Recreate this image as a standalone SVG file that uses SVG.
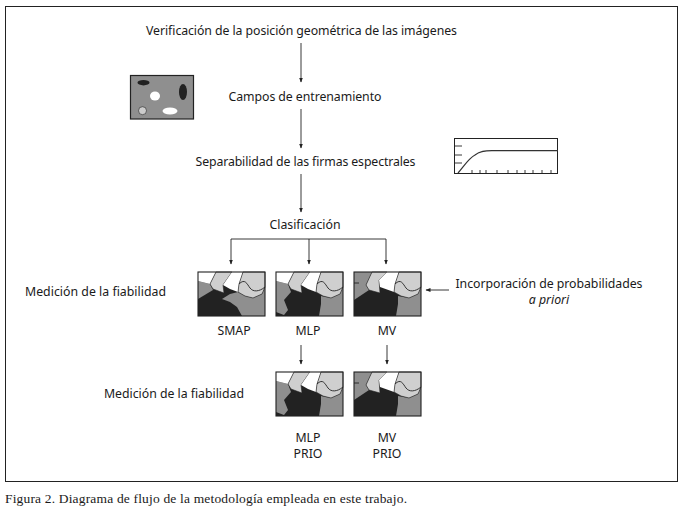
<svg xmlns="http://www.w3.org/2000/svg" width="682" height="510" viewBox="0 0 682 510">
<style>
text{font-family:"Noto Sans","Open Sans",sans-serif;font-size:12.3px;fill:#1a1a1a}
.m{text-anchor:middle}
.c{stroke:#222;stroke-width:.9;fill:none}
.a{marker-end:url(#ah)}
.dk{fill:#222}.md{fill:#8f8f8f}.lt{fill:#cfcfcf;stroke:#222;stroke-width:.6}.wh{fill:#fff}
.f{fill:none;stroke:#222;stroke-width:1.1}
</style>
<defs>
<marker id="ah" markerUnits="userSpaceOnUse" markerWidth="6" markerHeight="6" refX="4.500" refY="2" orient="auto"><path d="M0 0L5 2L0 4Z" fill="#222"/></marker>
<g id="right">
<path class="lt" d="M45 0H67V15L64 22L55 26L47 24L40 20L41 12Z"/>
<path class="c" d="M41 12C47 6 49 12 52 16C55 20 61 20 67 15"/>
</g>
<g id="top">
<path class="wh" d="M0 0H18L12 12L0 9Z"/>
<path class="lt" d="M18 0H34L25 13L26 21L15 17L12 12Z"/>
<path class="wh" d="M34 0H45L41 12L40 20L32 17L25 13Z"/>
<use href="#right"/>
</g>
<g id="mvtop">
<path class="md" d="M0 0H18L12 13L15 18L0 28Z"/>
<path class="c" d="M0 11H5"/>
<path class="lt" d="M18 0H33L25 8L26 21L15 18L12 13Z"/>
<path class="wh" d="M33 0H45L41 12L40 20L26 15L25 8Z"/>
<use href="#right"/>
</g>
<g id="mlpmap">
<rect width="67" height="44" class="dk"/>
<path class="md" d="M0 9L12 12L15 20L8 28L12 38L8 43L0 40Z"/>
<path class="md" d="M45 24L55 26L64 22L67 15V44H43L45 32Z"/>
<use href="#top"/>
<rect width="67" height="44" class="f"/>
</g>
<g id="mvmap">
<rect width="67" height="44" class="dk"/>
<path class="md" d="M44 24L55 26L64 22L67 15V44H42L44 32Z"/>
<use href="#mvtop"/>
<rect width="67" height="44" class="f"/>
</g>
</defs>
<rect id="border" x="5.500" y="6.500" width="672" height="475" fill="#fff" stroke="#222"/>
<g id="connectors">
<path class="c a" d="M301 43V82"/>
<path class="c a" d="M301 109V148"/>
<path class="c a" d="M301 174V212"/>
<path class="c" d="M231 239H386"/>
<path class="c a" d="M231 239V264"/>
<path class="c a" d="M309 239V264"/>
<path class="c a" d="M386 239V264"/>
<path class="c a" d="M301 345V364"/>
<path class="c a" d="M387 345V364"/>
<path class="c a" d="M449 290H426"/>
</g>
<g id="n-verificacion"><text class="m" x="301.500" y="35" textLength="311">Verificación de la posición geométrica de las imágenes</text></g>
<g id="n-muestra">
<rect x="130.500" y="75.500" width="63" height="43.500" fill="#8f8f8f" stroke="#222" stroke-width="1.200"/>
<ellipse cx="143.500" cy="82.700" rx="6" ry="2.700" fill="#222"/>
<ellipse cx="183" cy="92" rx="4" ry="8" fill="#222"/>
<ellipse cx="155" cy="96" rx="5" ry="4.500" fill="#fff"/>
<circle cx="142.500" cy="110.700" r="4" fill="#ccc" stroke="#222" stroke-width=".6"/>
<ellipse cx="170" cy="111" rx="7.500" ry="3.500" fill="#fff"/>
</g>
<g id="n-campos"><text class="m" x="305" y="101" textLength="153">Campos de entrenamiento</text></g>
<g id="n-separabilidad"><text class="m" x="305.500" y="166" textLength="220">Separabilidad de las firmas espectrales</text></g>
<g id="n-curva">
<rect x="454.500" y="138.500" width="103" height="35" fill="#fff" stroke="#222"/>
<path class="c" d="M454 146H462M454 155H462M454 163H462"/>
<path class="c" d="M472 170V174M480 170V174M486 170V174M497 170V174M508 170V174M517 170V174M525 170V174M533 170V174M542 170V174M551 170V174"/>
<path d="M458 173C464 166 469 158 475 155C480 151 485 150.700 492 150.700H558" fill="none" stroke="#333" stroke-width="1.200"/>
</g>
<g id="n-clasificacion"><text class="m" x="305" y="229" textLength="71">Clasificación</text></g>
<g id="n-fiabilidad1"><text x="25" y="296" textLength="141">Medición de la fiabilidad</text></g>
<g id="n-smap">
<g transform="translate(198 272)">
<rect width="67" height="44" class="dk"/>
<path class="md" d="M0 9L12 12L15 18L0 27Z"/>
<path class="md" d="M24 27L32 22L40 20L47 24L55 26L64 22L67 15V44H44L39 35L32 30Z"/>
<use href="#top"/>
<rect width="67" height="44" class="f"/>
</g>
<text class="m" x="234" y="335">SMAP</text>
</g>
<g id="n-mlp">
<use href="#mlpmap" x="276" y="272"/>
<text class="m" x="308" y="335">MLP</text>
</g>
<g id="n-mv">
<use href="#mvmap" x="354" y="272"/>
<text class="m" x="387" y="335">MV</text>
</g>
<g id="n-incorporacion">
<text class="m" x="549" y="288" textLength="187">Incorporación de probabilidades</text>
<text class="m" x="549" y="304" font-style="italic">a priori</text>
</g>
<g id="n-fiabilidad2"><text x="104" y="398" textLength="140">Medición de la fiabilidad</text></g>
<g id="n-mlpprio">
<use href="#mlpmap" x="276" y="372"/>
<text class="m" x="308" y="442">MLP</text><text class="m" x="308" y="458">PRIO</text>
</g>
<g id="n-mvprio">
<use href="#mvmap" x="354" y="372"/>
<text class="m" x="387" y="442">MV</text><text class="m" x="387" y="458">PRIO</text>
</g>
<text id="caption" x="5" y="503" textLength="402" style="font-family:'Liberation Serif',serif;font-size:13.500px">Figura 2. Diagrama de flujo de la metodología empleada en este trabajo.</text>
</svg>
